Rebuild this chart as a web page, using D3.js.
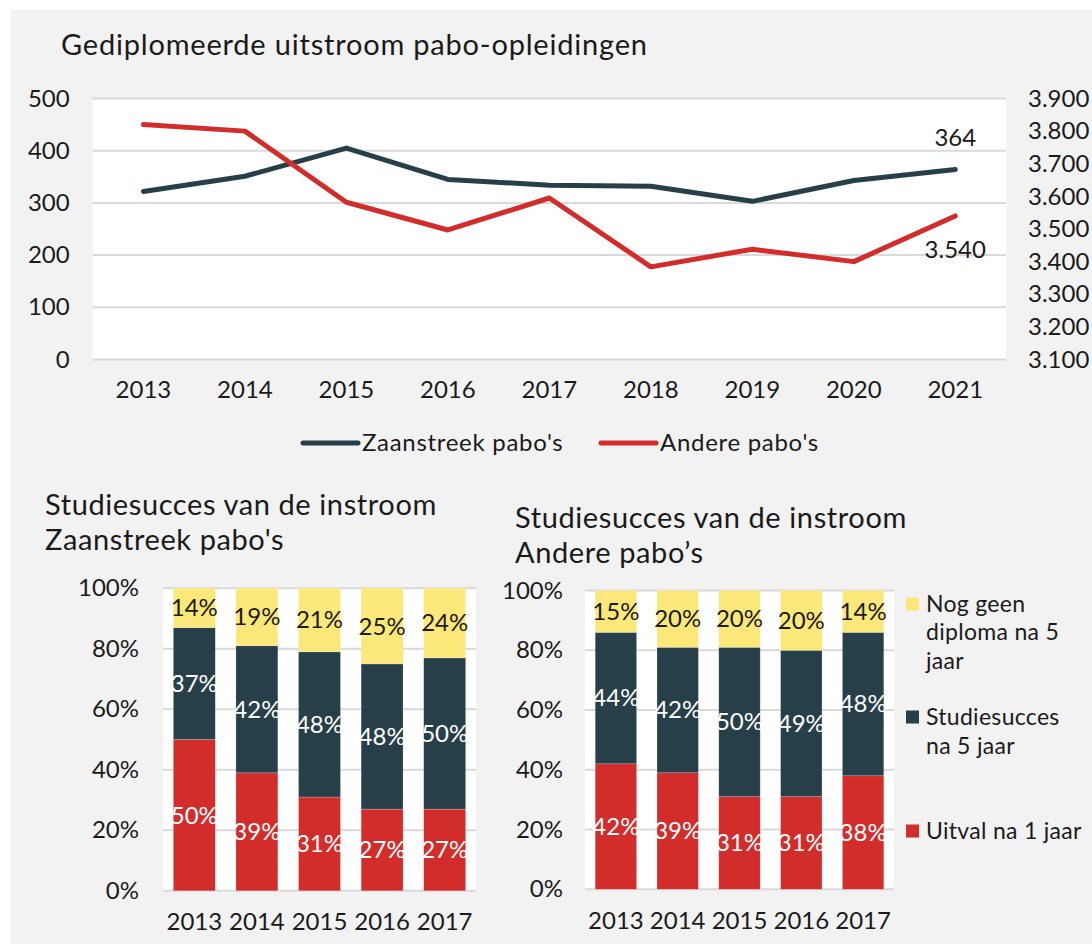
<!DOCTYPE html>
<html>
<head>
<meta charset="utf-8">
<script src="https://cdn.jsdelivr.net/npm/d3@7"></script>
<style>
  body { margin: 0; background: #fff; }
  text { font-family: Lato, "Noto Sans", sans-serif; fill: #1a1a1a; }
</style>
</head>
<body>
<svg id="chart" width="1092" height="944"></svg>
<script>
// ---- Gediplomeerde uitstroom (line chart, two y axes) ----
const years = ["2013", "2014", "2015", "2016", "2017", "2018", "2019", "2020", "2021"];
const zaanstreekUitstroom = [322, 351, 405, 345, 334, 332, 303, 343, 364];
const andereUitstroom = [3820, 3800, 3582, 3497, 3595, 3384, 3438, 3400, 3540];
const leftTicks = [0, 100, 200, 300, 400, 500];
const rightTicks = [3100, 3200, 3300, 3400, 3500, 3600, 3700, 3800, 3900];

// ---- Studiesucces van de instroom (stacked bars, percentages) ----
const cohorts = ["2013", "2014", "2015", "2016", "2017"];
const zaanUitval = [50, 39, 31, 27, 27];
const zaanSucces = [37, 42, 48, 48, 50];
const zaanGeenDiploma = [14, 19, 21, 25, 24];
const andereUitval = [42, 39, 31, 31, 38];
const andereSucces = [44, 42, 50, 49, 48];
const andereGeenDiploma = [15, 20, 20, 20, 14];
const pctTicks = [0, 20, 40, 60, 80, 100];

const seriesNames = ["Zaanstreek pabo's", "Andere pabo's"];
const stackKeys = ["uitval", "succes", "geen"];
const stackLabels = {
  geen: ["Nog geen", "diploma na 5", "jaar"],
  succes: ["Studiesucces", "na 5 jaar"],
  uitval: ["Uitval na 1 jaar"]
};

const C = {
  panel: "#f2f2f2",
  grid: "#d9d9d9",
  dark: "#273f48",
  red: "#d22c2b",
  yellow: "#fbe878",
  text: "#1a1a1a"
};
const FONT = "Lato, 'Noto Sans', sans-serif";
const TICK_SIZE = "24px";

const nl = d3.formatLocale({ decimal: ",", thousands: ".", grouping: [3], currency: ["€ ", ""] });
const fmtThousands = nl.format(",");

const svg = d3.select("#chart");
svg.append("rect").attr("x", 11).attr("y", 10).attr("width", 1081).attr("height", 934).attr("fill", C.panel);

// ===================== Line chart =====================
{
  const left = 92.7, right = 1006, top = 98.5, bottom = 359.5;
  const x = d3.scaleBand().domain(years).range([left, right]);
  const yL = d3.scaleLinear().domain([0, 500]).range([bottom, top]);
  const yR = d3.scaleLinear().domain([3100, 3900]).range([bottom, top]);
  const cx = d => x(d) + x.bandwidth() / 2;

  svg.append("text").attr("x", 61).attr("y", 55)
    .style("font-size", "29px").style("letter-spacing", "0.8px")
    .text("Gediplomeerde uitstroom pabo-opleidingen");

  svg.append("rect").attr("x", left).attr("y", top).attr("width", right - left).attr("height", bottom - top).attr("fill", "#fff");

  svg.append("g").selectAll("line").data(leftTicks).join("line")
    .attr("x1", left).attr("x2", right)
    .attr("y1", d => yL(d)).attr("y2", d => yL(d))
    .attr("stroke", C.grid).attr("stroke-width", 2);

  const axL = svg.append("g").attr("transform", `translate(${left},0)`)
    .call(d3.axisLeft(yL).tickValues(leftTicks).tickSize(0).tickPadding(23));
  const axR = svg.append("g").attr("transform", `translate(${right},0)`)
    .call(d3.axisRight(yR).tickValues(rightTicks).tickSize(0).tickPadding(22).tickFormat(fmtThousands));
  const axB = svg.append("g").attr("transform", `translate(0,${bottom})`)
    .call(d3.axisBottom(x).tickSize(0));
  axB.selectAll("text").attr("y", 30).attr("dy", "0.35em");
  [axL, axR, axB].forEach(a => {
    a.select(".domain").remove();
    a.selectAll("text").attr("fill", C.text).style("font-size", TICK_SIZE).style("font-family", FONT);
  });

  const lineL = d3.line().x((d, i) => cx(years[i])).y(d => yL(d));
  const lineR = d3.line().x((d, i) => cx(years[i])).y(d => yR(d));

  svg.append("path").datum(zaanstreekUitstroom).attr("d", lineL)
    .attr("fill", "none").attr("stroke", C.dark).attr("stroke-width", 5)
    .attr("stroke-linecap", "round").attr("stroke-linejoin", "round");
  svg.append("path").datum(andereUitstroom).attr("d", lineR)
    .attr("fill", "none").attr("stroke", C.red).attr("stroke-width", 5)
    .attr("stroke-linecap", "round").attr("stroke-linejoin", "round");

  // value labels on the last year
  const last = years.length - 1;
  svg.append("text").attr("x", cx(years[last])).attr("y", yL(zaanstreekUitstroom[last]) - 32)
    .attr("text-anchor", "middle").attr("dy", "0.35em").style("font-size", TICK_SIZE)
    .text(fmtThousands(zaanstreekUitstroom[last]));
  svg.append("text").attr("x", cx(years[last])).attr("y", yR(andereUitstroom[last]) + 34)
    .attr("text-anchor", "middle").attr("dy", "0.35em").style("font-size", TICK_SIZE)
    .text(fmtThousands(andereUitstroom[last]));

  // legend
  const lg = svg.append("g");
  const items = [
    { name: seriesNames[0], color: C.dark, x0: 303 },
    { name: seriesNames[1], color: C.red, x0: 601 }
  ];
  items.forEach(it => {
    lg.append("line").attr("x1", it.x0).attr("x2", it.x0 + 55).attr("y1", 443).attr("y2", 443)
      .attr("stroke", it.color).attr("stroke-width", 5).attr("stroke-linecap", "round");
    lg.append("text").attr("x", it.x0 + 59).attr("y", 443).attr("dy", "0.35em")
      .style("font-size", "24px").style("letter-spacing", "0.7px").text(it.name);
  });
}

// ===================== Stacked bar charts =====================
function stackedChart(opts) {
  const { left, right, top, bottom, titleX, titleY, titleLines, uitval, succes, geen, labelX } = opts;
  const rows = cohorts.map((c, i) => ({ cohort: c, uitval: uitval[i], succes: succes[i], geen: geen[i] }));
  const stacked = d3.stack().keys(stackKeys)(rows);

  const x = d3.scaleBand().domain(cohorts).range([left, right]).paddingInner(0.33).paddingOuter(0.165);
  const y = d3.scaleLinear().domain([0, 100]).range([bottom, top]).clamp(true);
  const color = d3.scaleOrdinal().domain(stackKeys).range([C.red, C.dark, C.yellow]);
  const labelColor = { uitval: "#fff", succes: "#fff", geen: C.text };

  const t = svg.append("text").attr("x", titleX).attr("y", titleY)
    .style("font-size", "29px").style("letter-spacing", "0.6px");
  titleLines.forEach((l, i) => t.append("tspan").attr("x", titleX).attr("dy", i === 0 ? 0 : 34.5).text(l));

  svg.append("rect").attr("x", left).attr("y", top).attr("width", right - left).attr("height", bottom - top).attr("fill", "#fff");
  svg.append("g").selectAll("line").data(pctTicks).join("line")
    .attr("x1", left).attr("x2", right)
    .attr("y1", d => y(d)).attr("y2", d => y(d))
    .attr("stroke", C.grid).attr("stroke-width", 2);

  const axL = svg.append("g").attr("transform", `translate(${labelX},0)`)
    .call(d3.axisLeft(y).tickValues(pctTicks).tickSize(0).tickPadding(0).tickFormat(d => d + "%"));
  const axB = svg.append("g").attr("transform", `translate(0,${bottom})`)
    .call(d3.axisBottom(x).tickSize(0));
  axB.selectAll("text").attr("y", 31).attr("dy", "0.35em");
  [axL, axB].forEach(a => {
    a.select(".domain").remove();
    a.selectAll("text").attr("fill", C.text).style("font-size", TICK_SIZE).style("font-family", FONT);
  });

  const layers = svg.append("g").selectAll("g").data(stacked).join("g").attr("fill", d => color(d.key));
  layers.selectAll("rect").data(d => d).join("rect")
    .attr("x", d => x(d.data.cohort)).attr("width", x.bandwidth())
    .attr("y", d => y(d[1])).attr("height", d => y(d[0]) - y(d[1]))
    .attr("stroke", "rgba(255,255,255,0.35)").attr("stroke-width", 0.6);

  stacked.forEach(layer => {
    svg.append("g").selectAll("text").data(layer).join("text")
      .attr("x", d => x(d.data.cohort) + x.bandwidth() / 2)
      .attr("y", d => (y(d[0]) + y(d[1])) / 2)
      .attr("dy", "0.35em").attr("text-anchor", "middle")
      .style("font-size", "24px")
      .style("fill", labelColor[layer.key])
      .text(d => d.data[layer.key] + "%");
  });
  return { x, y };
}

stackedChart({
  left: 163, right: 476, top: 588.3, bottom: 890.8,
  labelX: 139, titleX: 45, titleY: 515,
  titleLines: ["Studiesucces van de instroom", "Zaanstreek pabo's"],
  uitval: zaanUitval, succes: zaanSucces, geen: zaanGeenDiploma
});

stackedChart({
  left: 585, right: 894, top: 590.5, bottom: 889.3,
  labelX: 563, titleX: 515, titleY: 528,
  titleLines: ["Studiesucces van de instroom", "Andere pabo\u2019s"],
  uitval: andereUitval, succes: andereSucces, geen: andereGeenDiploma
});

// legend for the stacked bars
{
  const legendColor = { geen: C.yellow, succes: C.dark, uitval: C.red };
  const entries = [
    { key: "geen", y: 604, base: 611.5 },
    { key: "succes", y: 717, base: 725 },
    { key: "uitval", y: 831, base: 838.5 }
  ];
  const lg = svg.append("g");
  entries.forEach(e => {
    lg.append("rect").attr("x", 906).attr("y", e.y - 6.5).attr("width", 13).attr("height", 13).attr("fill", legendColor[e.key]);
    const t = lg.append("text").attr("x", 926).attr("y", e.base).style("font-size", "23px").style("letter-spacing", "0.3px");
    stackLabels[e.key].forEach((l, i) => t.append("tspan").attr("x", 926).attr("dy", i === 0 ? 0 : 28.5).text(l));
  });
}
</script>
</body>
</html>
